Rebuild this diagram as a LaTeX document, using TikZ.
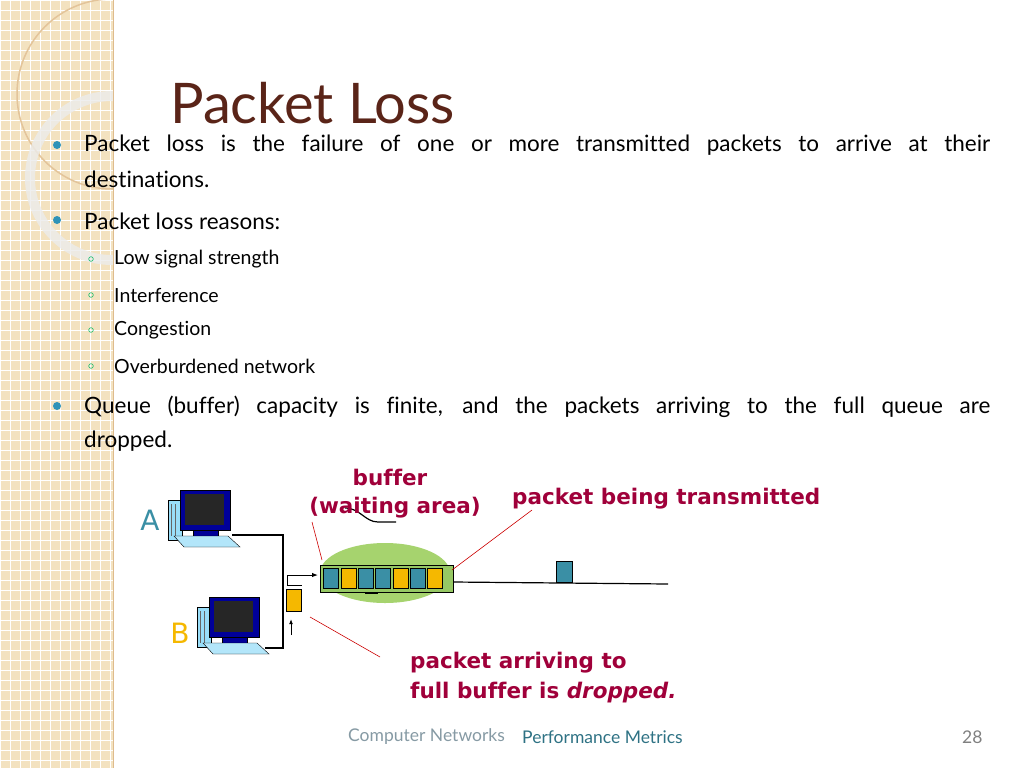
\documentclass[tikz,border=0pt]{standalone}
\usepackage{fontspec}
\setmainfont{Lato}[Ligatures=NoCommon]
\newfontfamily\diag{DejaVu Sans}[Ligatures=NoCommon]
\usetikzlibrary{shapes.geometric,arrows.meta}
\definecolor{beige}{HTML}{F3E2C0}
\definecolor{teal}{HTML}{3A8FA5}
\definecolor{pyel}{HTML}{F5B800}
\definecolor{crim}{HTML}{A0003A}
\definecolor{brownT}{HTML}{5A2418}
\definecolor{bul}{HTML}{2F93B8}
\tikzset{
 body/.style={anchor=west,font=\fontsize{22.5}{34}\selectfont,inner sep=0pt},
 sub/.style={anchor=west,font=\fontsize{19.5}{22}\selectfont,inner sep=0pt},
 lab/.style={font=\diag\bfseries\fontsize{21.5}{30}\selectfont,text=crim,inner sep=0pt},
 pkT/.style={draw=black,fill=teal,minimum width=12pt,minimum height=20pt,inner sep=0pt},
 pkY/.style={draw=black,fill=pyel,minimum width=12pt,minimum height=20pt,inner sep=0pt},
 redl/.style={draw=red!80!black,line width=0.6pt},
 foot/.style={font=\fontsize{17.5}{20}\selectfont,inner sep=0pt,anchor=west}
}
\newcommand{\computer}[1]{%
 \begin{scope}[shift={#1}]
 \fill[cyan!40!white,draw=black] (0,10) rectangle (14,50);
 \draw[black!60] (3,14)--(3,46) (7,14)--(7,46);
 \fill[blue!60!black,draw=black] (12,0) rectangle (62,40);
 \fill[black!85] (17,4) rectangle (56,35);
 \fill[blue!60!black,draw=black] (25,40) rectangle (50,46);
 \fill[cyan!30!white,draw=black] (6,46)--(60,46)--(72,57)--(16,57)--cycle;
 \end{scope}}
\begin{document}
\begin{tikzpicture}[x=1pt,y=-1pt]
\useasboundingbox (0,0) rectangle (1024,768);
\fill[white] (0,0) rectangle (1024,768);
% left strip
\fill[beige] (0,0) rectangle (113,768);
\foreach \i in {0,...,11} \draw[white,line width=0.6pt] (\i*10,0)--(\i*10,768);
\foreach \j in {0,...,77} \draw[white,line width=0.6pt] (0,\j*10)--(113,\j*10);
\begin{scope}
\clip (0,0) rectangle (113,768);
\draw[beige!70!brown,line width=1.5pt] (112,94) circle (95);
\draw[white!85!gray,line width=10pt,opacity=0.8] (112,178) circle (82);
\end{scope}
\draw[beige!60!brown,line width=0.8pt] (113,0)--(113,768);
% title
\node[anchor=west,text=brownT,font=\fontsize{56}{60}\selectfont,inner sep=0pt] (title) at (170,103) {Packet Loss};
% bullets
\foreach \y in {145,220,406} \fill[bul] (57,\y) circle (4);
\node[body] (b1) at (84,145) {\makebox[906pt][s]{Packet loss is the failure of one or more transmitted packets to arrive at their}};
\node[body] (b1b) at (84,179) {destinations.};
\node[body] (b2) at (84,221) {Packet loss reasons:};
\foreach \y/\t in {259/Low signal strength,295/Interference,330/Congestion,366/Overburdened network}{
 \draw[bul!60!green,line width=0.6pt] (91,\y) circle (2.3);
 \node[sub] at (114,\y) {\t};}
\node[body] (b3) at (84,407) {\makebox[906pt][s]{Queue (buffer) capacity is finite, and the packets arriving to the full queue are}};
\node[body] (b3b) at (84,441) {dropped.};
% diagram
\computer{(168,490)}
\computer{(197,597)}
\node[font=\diag\fontsize{28}{30}\selectfont,text=teal] (A) at (150,520) {A};
\node[font=\diag\fontsize{28}{30}\selectfont,text=pyel] (B) at (180,633) {B};
\fill[fill={rgb,255:red,166;green,211;blue,110}] (385,573) ellipse (65 and 30);
\draw[line width=1pt,fill={rgb,255:red,150;green,200;blue,100}] (320,565) rectangle (453,592);
\foreach \k/\s in {0/pkT,1/pkY,2/pkT,3/pkT,4/pkY,5/pkT,6/pkY}
 \node[\s,minimum width=15pt] at (331+\k*17.3,578.5) {};
\coordinate (qe) at (453,582);
\coordinate (le) at (668,584);
\draw[line width=1.2pt] (qe)--(le);
\node[pkT,minimum width=16pt,minimum height=21pt,anchor=south] (tx) at (564,582) {};
\draw[line width=1.2pt] (232,535)--(283,535)--(283,648)--(265,648);
\draw[line width=1pt,-{Latex[length=6pt]}] (287,585)--(287,575)--(318,575);
\draw[line width=0.8pt] (287,585)--(302,585);
\node[pkY,minimum width=15pt,minimum height=22pt] (drop) at (294,600) {};
\draw[line width=1pt,-{Latex[length=5pt]}] (291,635)--(291,619);
\draw[line width=1.2pt] (345,508) .. controls (360,508) and (365,522) .. (378,522) -- (396,522);
\draw[line width=1.4pt] (365,593)--(378,593);
% labels
\node[lab] (buf) at (390,477) {buffer};
\node[lab] (wait) at (395,508) {(waiting area)};
\node[lab,anchor=west] (ptx) at (512,499) {packet being transmitted};
\node[lab,anchor=north west,align=left] (parr) at (410,652) {packet arriving to\\full buffer is \textit{dropped.}};
\draw[redl] (312,522)--(322,560);
\draw[redl] (532,510)--(452,570);
\draw[redl] (310,617)--(380,657);
% footer
\node[foot,text=gray!80!cyan] (f1) at (348,737) {Computer Networks};
\node[foot,text=teal!80!black] (f2) at (522,737) {Performance Metrics};
\node[foot,text=gray] (f3) at (962,737) {28};
\end{tikzpicture}
\end{document}
